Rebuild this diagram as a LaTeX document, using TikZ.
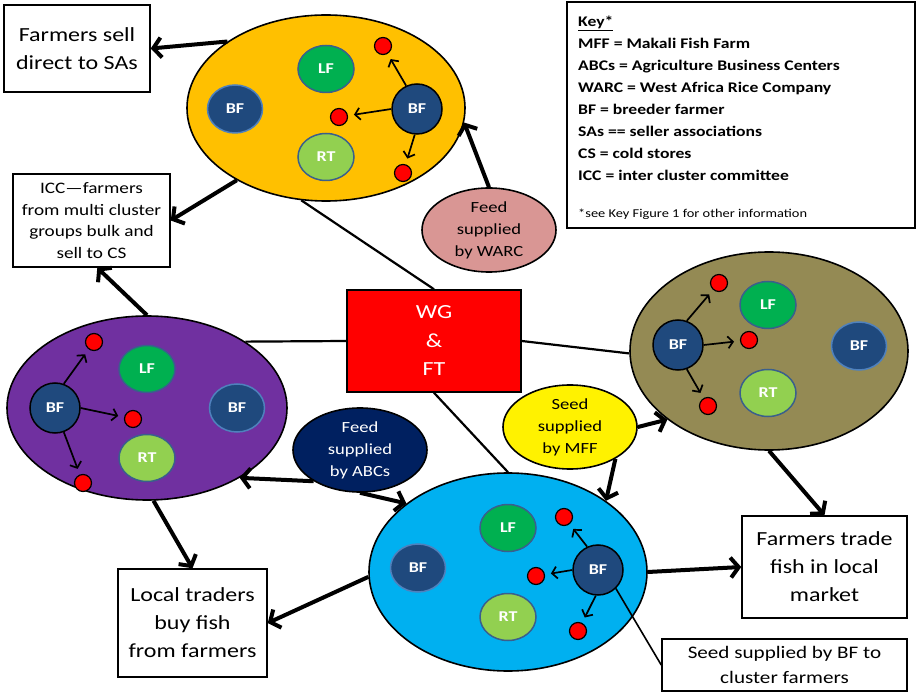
\documentclass[tikz,border=0pt]{standalone}
\usepackage{fontspec}
\setmainfont{Carlito}[FakeStretch=1.2]
\usetikzlibrary{shapes.geometric,arrows.meta}

\definecolor{clOrange}{HTML}{FFC000}
\definecolor{clPurple}{HTML}{7030A0}
\definecolor{clOlive}{HTML}{948A54}
\definecolor{clBlue}{HTML}{00B0F0}
\definecolor{bfFill}{HTML}{1F497D}
\definecolor{bfEdge}{HTML}{4F81BD}
\definecolor{innerEdge}{HTML}{3A5F8C}
\definecolor{lfGreen}{HTML}{00B050}
\definecolor{rtGreen}{HTML}{92D050}
\definecolor{warcPink}{HTML}{D99694}
\definecolor{abcNavy}{HTML}{002060}

\begin{document}
\begin{tikzpicture}[x=1pt,y=-1pt,
  cluster/.style={ellipse,draw=black,line width=1.6pt,inner sep=0pt},
  labelfont/.style={text=white,font=\fontsize{15}{17}\selectfont\bfseries},
  bfact/.style={circle,fill=bfFill,draw=black,line width=1.5pt,minimum size=50pt,inner sep=0pt,labelfont},
  bfpas/.style={ellipse,fill=bfFill,draw=bfEdge,line width=1.5pt,minimum width=55pt,minimum height=48pt,inner sep=0pt,labelfont},
  lfnode/.style={ellipse,fill=lfGreen,draw=innerEdge,line width=1.5pt,minimum width=56pt,minimum height=47pt,inner sep=0pt,labelfont},
  rtnode/.style={lfnode,fill=rtGreen},
  fry/.style={circle,fill=red,draw=black,line width=1.2pt,minimum size=17pt,inner sep=0pt},
  textbox/.style={draw=black,line width=1.5pt,fill=white,align=center,inner sep=0pt,text=black},
  bigtext/.style={font=\fontsize{20}{28}\selectfont},
  supply/.style={ellipse,draw=black,line width=1.6pt,inner sep=0pt,align=center,minimum width=134pt,minimum height=84pt,font=\fontsize{15.5}{22}\selectfont},
  flow/.style={line width=4pt,-{Straight Barb[length=8pt,width=20pt]}},
  link/.style={line width=2.2pt},
  spawn/.style={line width=1.7pt,-{Straight Barb[length=5pt,width=12pt]},shorten >=6pt},
]
\useasboundingbox (0,0) rectangle (918,692);

% ---------- clusters ----------
% top (orange)
\node[cluster,fill=clOrange,minimum width=278pt,minimum height=186pt] (top) at (326,108) {};
\node[bfpas] (topbfb) at (235,109) {BF};
\node[lfnode] (toplf) at (326,69) {LF};
\node[rtnode] (toprt) at (326,157) {RT};
\node[bfact] (topbf) at (417,109) {BF};
\node[fry] (topf1) at (383,46) {};
\node[fry] (topf2) at (339,117) {};
\node[fry] (topf3) at (403,173) {};
\draw[spawn] (topbf.115) -- (topf1);
\draw[spawn] (topbf.west) -- (topf2);
\draw[spawn] (topbf.265) -- (topf3);

% west (purple)
\node[cluster,fill=clPurple,minimum width=280pt,minimum height=184pt] (west) at (147,408) {};
\node[bfact] (westbf) at (55,408) {BF};
\node[lfnode] (westlf) at (147,369) {LF};
\node[rtnode] (westrt) at (147,458) {RT};
\node[bfpas] (westbfb) at (237,408) {BF};
\node[fry] (westf1) at (94,342) {};
\node[fry] (westf2) at (133,419) {};
\node[fry] (westf3) at (83,483) {};
\draw[spawn] (westbf.70) -- (westf1);
\draw[spawn] (westbf.east) -- (westf2);
\draw[spawn] (westbf.290) -- (westf3);

% east (olive)
\node[cluster,fill=clOlive,minimum width=278pt,minimum height=198pt] (olive) at (769,351) {};
\node[bfact] (olivebf) at (678,345) {BF};
\node[lfnode] (olivelf) at (768,305) {LF};
\node[rtnode] (olivert) at (768,393) {RT};
\node[bfpas] (olivebfb) at (859,346) {BF};
\node[fry] (olivef1) at (719,283) {};
\node[fry] (olivef2) at (749,340) {};
\node[fry] (olivef3) at (708,406) {};
\draw[spawn] (olivebf.70) -- (olivef1);
\draw[spawn] (olivebf.east) -- (olivef2);
\draw[spawn] (olivebf.290) -- (olivef3);

% south (blue)
\node[cluster,fill=clBlue,minimum width=278pt,minimum height=198pt] (blue) at (508,572) {};
\node[bfpas] (bluebfb) at (418,568) {BF};
\node[lfnode] (bluelf) at (508,528) {LF};
\node[rtnode] (bluert) at (508,617) {RT};
\node[bfact] (bluebf) at (598,570) {BF};
\node[fry] (bluef1) at (564,517) {};
\node[fry] (bluef2) at (536,576) {};
\node[fry] (bluef3) at (578,631) {};
\draw[spawn] (bluebf.115) -- (bluef1);
\draw[spawn] (bluebf.west) -- (bluef2);
\draw[spawn] (bluebf.265) -- (bluef3);

% ---------- hub ----------
\node[draw=black,line width=1.5pt,fill=red,minimum width=174pt,minimum height=102pt,
      align=center,text=white,inner sep=0pt,font=\fontsize{20}{28.5}\selectfont] (wg) at (434,341) {WG\\\&\\FT};
\draw[link] (top.255) -- (wg.north);
\draw[link] (wg.west) -- (west.34);
\draw[link] (wg.east) -- (olive.181);
\draw[link] (wg.south) -- (blue.north);

% ---------- outlets ----------
\node[textbox,bigtext,minimum width=146pt,minimum height=87pt] (sas) at (77,48.5) {Farmers sell\\direct to SAs};
\node[textbox,minimum width=157pt,minimum height=93pt,font=\fontsize{16}{21.7}\selectfont] (icc) at (91.5,220.5) {ICC---farmers\\from multi cluster\\groups bulk and\\sell to CS};
\node[textbox,bigtext,minimum width=149pt,minimum height=108pt] (traders) at (192.5,623) {Local traders\\buy fish\\from farmers};
\node[textbox,bigtext,minimum width=165pt,minimum height=102pt] (market) at (824.5,567) {Farmers trade\\fish in local\\market};
\node[textbox,minimum width=245pt,minimum height=52pt,font=\fontsize{17.6}{25}\selectfont] (bfseed) at (784.5,665) {Seed supplied by BF to\\cluster farmers};

% ---------- suppliers ----------
\node[supply,fill=warcPink] (warc) at (489,230) {Feed\\supplied\\by WARC};
\node[supply,fill=abcNavy,text=white] (abcs) at (360,450) {Feed\\supplied\\by ABCs};
\node[supply,fill=yellow] (mff) at (570,427) {Seed\\supplied\\by MFF};

% ---------- flows ----------
\draw[flow] (top.146) -- (sas.east);
\draw[flow] (top.219) -- (icc.east);
\draw[flow] (west.north) -- (icc.277);
\draw[flow] (warc.north) -- (top.354);
\draw[flow] (abcs.214) -- (west.323);
\draw[flow] (abcs.south) -- (blue.146);
\draw[flow] (mff.east) -- (olive.214);
\draw[flow] (mff.325) -- (blue.36);
\draw[flow] (olive.south) -- (market.north);
\draw[flow] (blue.east) -- (market.west);
\draw[flow] (west.274) -- (traders.north);
\draw[flow] (blue.182) -- (traders.east);
\draw[line width=1.6pt] (bluebf.314) -- (bfseed.west);

% ---------- key ----------
\node[draw=black,line width=1.2pt,fill=white,minimum width=348pt,minimum height=226pt,inner sep=0pt] (key) at (741,115) {};
\node[anchor=north west,align=left,inner sep=0pt,font=\fontsize{14.7}{21.9}\selectfont\bfseries] (keytext) at (578,16)
  {\underline{Key*}\\
   MFF = Makali Fish Farm\\
   ABCs = Agriculture Business Centers\\
   WARC = West Africa Rice Company\\
   BF = breeder farmer\\
   SAs == seller associations\\
   CS = cold stores\\
   ICC = inter cluster committee\\[16pt]
   {\fontsize{12}{14}\selectfont\mdseries *see Key Figure 1 for other information}};
\end{tikzpicture}
\end{document}
